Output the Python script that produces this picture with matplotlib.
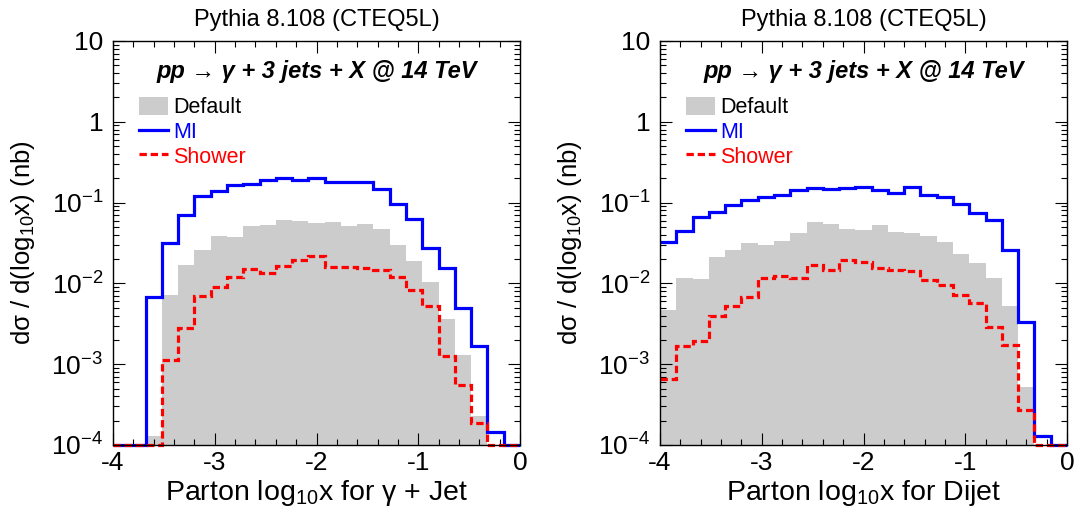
import matplotlib
matplotlib.use("Agg")
import matplotlib.pyplot as plt
import numpy as np
from matplotlib.patches import Patch
from matplotlib.lines import Line2D
from matplotlib.ticker import LogLocator, FixedLocator, FuncFormatter, NullFormatter, MultipleLocator

plt.rcParams["font.family"] = ["Liberation Sans", "DejaVu Sans"]
plt.rcParams["mathtext.fontset"] = "custom"
plt.rcParams["mathtext.rm"] = "Liberation Sans"
plt.rcParams["mathtext.it"] = "Liberation Sans:italic"
plt.rcParams["mathtext.bf"] = "Liberation Sans:bold"
plt.rcParams["axes.unicode_minus"] = False

# 25 bins of log10(x) from -4 to 0
x_lo, x_hi, n_bins = -4.0, 0.0, 25
edges = np.linspace(x_lo, x_hi, n_bins + 1)

# gamma + jet panel
gj_default = [0, 0, 1.3e-4, 7.1e-3, 0.0168, 0.0256, 0.039, 0.038, 0.0518, 0.0527,
              0.0608, 0.060, 0.0553, 0.058, 0.0518, 0.0538, 0.0467, 0.0295, 0.0188,
              0.0105, 3.6e-3, 1.29e-3, 2.26e-4, 0, 0]
gj_mi = [0, 0, 6.7e-3, 0.032, 0.071, 0.12, 0.138, 0.163, 0.172, 0.188,
         0.200, 0.191, 0.202, 0.179, 0.182, 0.179, 0.148, 0.095, 0.0625,
         0.0276, 0.0153, 5.0e-3, 1.66e-3, 1.45e-4, 0]
gj_shower = [0, 0, 0, 1.14e-3, 2.78e-3, 6.9e-3, 9.1e-3, 0.012, 0.0152, 0.0135,
             0.0166, 0.0193, 0.0216, 0.016, 0.016, 0.0157, 0.0146, 0.012, 8.2e-3,
             5.3e-3, 1.26e-3, 5.5e-4, 1.87e-4, 0, 0]

# dijet panel
dj_default = [4.7e-3, 0.0117, 0.0112, 0.021, 0.0256, 0.0315, 0.030, 0.0336, 0.0417,
              0.0569, 0.0543, 0.0471, 0.0458, 0.0527, 0.0437, 0.0417, 0.0387, 0.033,
              0.0231, 0.0179, 0.0117, 5.2e-3, 5.2e-4, 0, 0]
dj_mi = [0.033, 0.0446, 0.0655, 0.0755, 0.0927, 0.107, 0.117, 0.123, 0.142, 0.151,
         0.148, 0.153, 0.158, 0.145, 0.132, 0.154, 0.123, 0.117, 0.0955, 0.0747,
         0.0608, 0.026, 3.3e-3, 1.31e-4, 0]
dj_shower = [6.5e-4, 1.7e-3, 1.93e-3, 3.9e-3, 5.3e-3, 6.8e-3, 0.0115, 0.0125, 0.0115,
             0.0168, 0.0148, 0.0197, 0.0182, 0.0156, 0.0148, 0.0142, 0.0109, 9.5e-3,
             7.2e-3, 5.7e-3, 2.9e-3, 1.74e-3, 2.7e-4, 0, 0]

panels = [
    (gj_default, gj_mi, gj_shower, "Parton log$_{10}$x for \u03b3 + Jet"),
    (dj_default, dj_mi, dj_shower, "Parton log$_{10}$x for Dijet"),
]

title = "Pythia 8.108 (CTEQ5L)"
process = "pp \u2192 \u03b3 + 3 jets + X @ 14 TeV"
ylabel = "d\u03c3 / d(log$_{10}$x) (nb)"
legend_labels = ["Default", "MI", "Shower"]
legend_colors = ["black", "blue", "red"]

y_min, y_max = 1e-4, 10
gray = "#cccccc"
dash = (2.3, 1.2)

W, H = 1078, 516
fig = plt.figure(figsize=(W / 100, H / 100), dpi=100)
axes_px = [(113, 41, 407, 404), (660, 41, 407, 404)]


def ylab(v, pos):
    e = int(round(np.log10(v)))
    if e == 0:
        return "1"
    if e == 1:
        return "10"
    return "$10^{%d}$" % e


for (dflt, mi, sh, xlabel), (px, py, pw, ph) in zip(panels, axes_px):
    ax = fig.add_axes([px / W, 1 - (py + ph) / H, pw / W, ph / H])
    dflt = np.clip(np.array(dflt, float), y_min, None)
    mi = np.clip(np.array(mi, float), y_min, None)
    sh = np.clip(np.array(sh, float), y_min, None)

    ax.stairs(dflt, edges, fill=True, color=gray, baseline=y_min, zorder=1)
    ax.stairs(mi, edges, color="blue", linewidth=2.3, baseline=None, zorder=3, clip_on=False)
    ax.stairs(sh, edges, color="red", linewidth=2.3, linestyle=(0, dash), baseline=None,
              zorder=4, clip_on=False)

    ax.set_yscale("log")
    ax.set_xlim(x_lo, x_hi)
    ax.set_ylim(y_min, y_max)

    ax.xaxis.set_major_locator(MultipleLocator(1))
    ax.xaxis.set_minor_locator(MultipleLocator(0.2))
    ax.yaxis.set_major_locator(FixedLocator([1e-4, 1e-3, 1e-2, 1e-1, 1, 10]))
    ax.yaxis.set_major_formatter(FuncFormatter(ylab))
    ax.yaxis.set_minor_locator(LogLocator(base=10, subs=np.arange(2, 10)))
    ax.yaxis.set_minor_formatter(NullFormatter())
    ax.xaxis.set_major_formatter(FuncFormatter(lambda v, p: "%d" % round(v)))

    ax.tick_params(which="both", direction="in", top=True, right=True, width=0.8,
                   labelsize=19)
    ax.tick_params(which="major", length=8.6)
    ax.tick_params(which="minor", length=4.3)
    ax.tick_params(axis="x", which="major", pad=4)
    ax.tick_params(axis="y", which="major", pad=7)
    for s in ax.spines.values():
        s.set_linewidth(1.0)
        s.set_zorder(5)

    ax.set_xlabel(xlabel, fontsize=20.5)
    ax.xaxis.label.set_va("baseline")
    ax.xaxis.set_label_coords(0.5, -55 / ph)
    ax.set_ylabel(ylabel, fontsize=18.5)
    ax.yaxis.set_label_coords(-76 / pw, 0.5)

    ax.text(0.5, 1 + 15 / ph, title, transform=ax.transAxes, ha="center",
            va="baseline", fontsize=17)
    ax.text(0.5, 1 - 37 / ph, process, transform=ax.transAxes, ha="center",
            va="baseline", fontsize=17, fontweight="bold", fontstyle="italic")

    handles = [
        Patch(facecolor=gray, edgecolor="none"),
        Line2D([], [], color="blue", linewidth=2.3),
        Line2D([], [], color="red", linewidth=2.3, linestyle=(0, dash)),
    ]
    leg = ax.legend(handles, legend_labels, loc="upper left",
                    bbox_to_anchor=(26 / pw, 1 - 56 / ph), frameon=False,
                    fontsize=15.5, borderpad=0, borderaxespad=0, handlelength=1.35,
                    handleheight=0.9, handletextpad=0.23, labelspacing=0.15)
    for t, c in zip(leg.get_texts(), legend_colors):
        t.set_color(c)

fig.savefig("out.png", dpi=100)
